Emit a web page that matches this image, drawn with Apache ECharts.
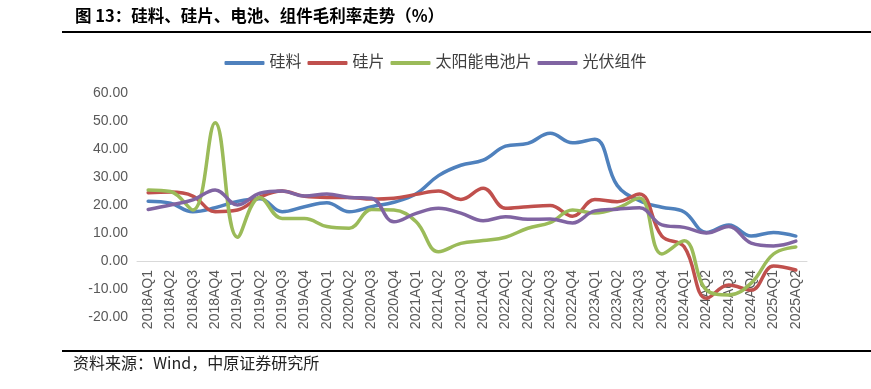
<!DOCTYPE html>
<html><head><meta charset="utf-8">
<script src="https://cdn.jsdelivr.net/npm/echarts@6/dist/echarts.min.js"></script>
<style>html,body{margin:0;padding:0;background:#fff}#c{width:871px;height:389px}</style>
</head><body><div id="c"></div>
<script>
const categories = ['2018AQ1','2018AQ2','2018AQ3','2018AQ4','2019AQ1','2019AQ2','2019AQ3','2019AQ4','2020AQ1','2020AQ2','2020AQ3','2020AQ4','2021AQ1','2021AQ2','2021AQ3','2021AQ4','2022AQ1','2022AQ2','2022AQ3','2022AQ4','2023AQ1','2023AQ2','2023AQ3','2023AQ4','2024AQ1','2024AQ2','2024AQ3','2024AQ4','2025AQ1','2025AQ2'];
const polysilicon = [21.3,20.6,17.6,19.0,21.3,22.2,17.6,19.4,20.8,17.6,19.4,21.0,24.0,30.5,34.2,36.0,41.0,42.0,45.6,42.2,43.5,27.0,21.5,19.2,17.5,10.2,12.9,8.9,10.2,8.9];
const wafer = [24.4,24.6,23.2,17.6,18.2,22.8,25.0,23.1,22.7,22.7,22.1,22.4,23.8,25.0,22.0,26.0,18.8,19.4,19.8,16.0,22.0,21.2,23.9,8.9,5.1,-13.3,-8.6,-10.4,-1.8,-3.2];
const cell = [25.4,24.8,18.2,49.4,8.5,22.7,15.2,15.2,12.3,11.7,18.4,18.2,14.0,3.3,6.3,7.3,8.5,11.7,13.7,18.2,17.1,18.9,22.5,2.5,7.2,-10.4,-12.1,-7.9,2.5,5.0];
const module_ = [18.4,20.0,21.8,25.4,20.0,24.2,25.0,23.2,23.9,22.7,22.4,14.0,17.0,18.8,17.1,14.4,15.8,14.9,15.0,13.6,17.9,18.5,19.0,12.9,12.0,10.0,12.3,6.4,5.4,7.1];
const yTicks = {min:-20, max:60, interval:10};
const names = ['硅料','硅片','太阳能电池片','光伏组件'];
const colors = ['#4F81BD','#C0504D','#9BBB59','#8064A2'];
const seriesData = [polysilicon, wafer, cell, module_];

const gridTop = 93, gridBottomPx = 317;
const zeroOffset = -(gridBottomPx - gridTop) * (0 - yTicks.min) / (yTicks.max - yTicks.min);

const chart = echarts.init(document.getElementById('c'), null, {renderer:'canvas'});
const font = '"Liberation Sans", Arial, "Noto Sans CJK SC", sans-serif';
chart.setOption({
  animation:false,
  textStyle:{fontFamily:font},
  legend:{
    data:names, top:50, left:'center', itemWidth:40, itemHeight:4, itemGap:6,
    icon:'roundRect',
    textStyle:{fontSize:16, color:'#404040', fontFamily:font}
  },
  grid:{left:137, right:64, top:gridTop, bottom:389-gridBottomPx, containLabel:false},
  xAxis:{
    type:'category', data:categories, boundaryGap:true, offset:zeroOffset,
    axisLine:{onZero:false, lineStyle:{color:'#D9D9D9', width:1}},
    axisTick:{show:false},
    axisLabel:{rotate:90, interval:0, fontSize:14, color:'#595959', margin:9, fontFamily:font}
  },
  yAxis:{
    type:'value', min:yTicks.min, max:yTicks.max, interval:yTicks.interval,
    axisLine:{show:false}, axisTick:{show:false}, splitLine:{show:false},
    axisLabel:{fontSize:14, color:'#595959', margin:9, formatter:v=>v.toFixed(2), fontFamily:font}
  },
  series: names.map((n,i)=>({
    name:n, type:'line', data:seriesData[i], smooth:0.4, symbol:'none', z:5,
    lineStyle:{color:colors[i], width:3.5, cap:'round', join:'round'},
    itemStyle:{color:colors[i]}
  })),
  graphic:[
    {type:'text', left:75, top:7, style:{text:'图 13：硅料、硅片、电池、组件毛利率走势（%）', font:'bold 16.5px "Noto Sans CJK SC", sans-serif', fill:'#000'}},
    {type:'rect', shape:{x:62, y:31, width:809, height:2}, style:{fill:'#000'}},
    {type:'rect', shape:{x:62, y:350, width:809, height:2}, style:{fill:'#000'}},
    {type:'text', left:73, top:355, style:{text:'资料来源：Wind，中原证券研究所', font:'16px "Noto Sans CJK SC", sans-serif', fill:'#222'}}
  ]
});
</script></body></html>
